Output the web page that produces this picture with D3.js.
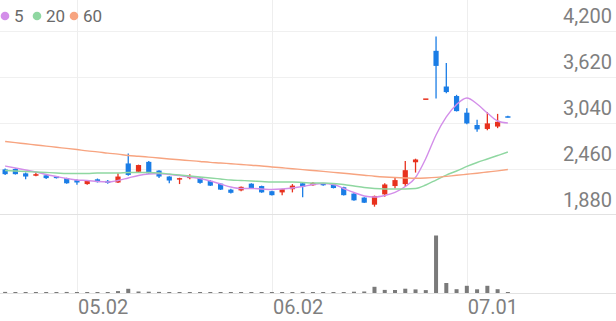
<!DOCTYPE html>
<html>
<head>
<meta charset="utf-8">
<script src="https://cdn.jsdelivr.net/npm/d3@7"></script>
<style>
  body { margin: 0; background: #fff; }
  text { font-family: Roboto, "Noto Sans", sans-serif; }
</style>
</head>
<body>
<svg id="chart" width="616" height="321"></svg>
<script>
// size of window
var width = 616, height = 321;

// trading days shown (Apr 22 - Jul 7)
var dates = [
  "2025-04-22","2025-04-23","2025-04-24","2025-04-25","2025-04-28","2025-04-29","2025-04-30",
  "2025-05-02","2025-05-07","2025-05-08","2025-05-09","2025-05-12","2025-05-13","2025-05-14",
  "2025-05-15","2025-05-16","2025-05-19","2025-05-20","2025-05-21","2025-05-22","2025-05-23",
  "2025-05-26","2025-05-27","2025-05-28","2025-05-29","2025-05-30","2025-06-02","2025-06-04",
  "2025-06-05","2025-06-09","2025-06-10","2025-06-11","2025-06-12","2025-06-13","2025-06-16",
  "2025-06-17","2025-06-18","2025-06-19","2025-06-20","2025-06-23","2025-06-24","2025-06-25",
  "2025-06-26","2025-06-27","2025-06-30","2025-07-01","2025-07-02","2025-07-03","2025-07-04",
  "2025-07-07"
];
// candle values
var opens  = [2455,2460,2405,2375,2380,2365,2345,2320,2270,2330,2310,2290,2530,2425,2550,2440,2365,2335,2345,2350,
              2310,2275,2200,2190,2275,2245,2180,2165,2205,2280,2255,2280,2265,2230,2150,2100,2010,2140,2245,2270,
              2545,3350,3950,3500,3380,3170,3015,2965,2995,3125];
var highs  = [2465,2470,2415,2420,2390,2370,2350,2330,2320,2340,2320,2405,2655,2515,2560,2445,2370,2350,2395,2355,
              2320,2280,2210,2240,2280,2250,2185,2210,2270,2285,2295,2285,2270,2235,2155,2105,2125,2280,2345,2560,
              2590,3350,4130,3795,3395,3225,3080,3180,3155,3130];
var lows   = [2385,2390,2330,2370,2335,2340,2275,2260,2260,2290,2275,2285,2375,2420,2400,2345,2280,2270,2330,2275,
              2245,2195,2150,2180,2210,2160,2125,2130,2165,2105,2250,2250,2215,2125,2060,2030,1985,2110,2215,2235,
              2415,3350,3350,3415,3185,3025,2930,2950,2975,3110];
var closes = [2395,2395,2365,2395,2345,2345,2280,2290,2310,2295,2285,2365,2385,2510,2405,2365,2315,2345,2365,2285,
              2250,2200,2160,2235,2215,2165,2130,2205,2250,2235,2285,2255,2220,2130,2065,2035,2120,2265,2320,2445,
              2580,3350,3760,3430,3190,3035,2960,3035,3055,3110];
var volumes = [110000,95000,100000,85000,90000,80000,105000,95000,90000,85000,80000,190000,420000,150000,130000,
               110000,95000,90000,100000,95000,90000,100000,85000,90000,80000,85000,95000,90000,100000,110000,
               90000,80000,85000,95000,130000,150000,620000,310000,300000,430000,360000,290000,5750000,1000000,
               380000,720000,370000,720000,380000,40000];
// moving averages
var ma5  = [2498,2473,2447,2422,2391,2365,2340,2321,2315,2302,2296,2315,2347,2378,2397,2403,2391,2378,2359,2340,
            2309,2271,2233,2214,2214,2208,2202,2208,2220,2239,2265,2277,2265,2214,2164,2120,2107,2126,2164,2239,
            2353,2592,2889,3116,3273,3355,3280,3166,3065,3040];
var ma20 = [2441,2435,2428,2422,2416,2410,2403,2403,2403,2410,2410,2410,2416,2416,2416,2410,2397,2384,2372,2359,
            2347,2334,2321,2315,2309,2302,2296,2296,2296,2290,2283,2283,2277,2265,2246,2227,2214,2208,2208,2208,
            2214,2258,2321,2384,2435,2492,2542,2586,2630,2674];
var ma60 = [2807,2792,2778,2763,2749,2734,2720,2705,2689,2676,2660,2647,2631,2621,2610,2599,2587,2576,2566,2555,
            2544,2536,2526,2517,2507,2498,2486,2475,2464,2452,2441,2430,2418,2407,2394,2382,2369,2359,2352,2347,
            2344,2347,2354,2367,2381,2394,2407,2422,2437,2454];

var priceTicks = [1880, 2460, 3040, 3620, 4200];
var dateTicks = ["2025-05-02", "2025-06-02", "2025-07-01"];

var maSeries = [
  { name: "5",  values: ma5,  colour: "#d38ee9" },
  { name: "20", values: ma20, colour: "#8fd7a1" },
  { name: "60", values: ma60, colour: "#f7a480" }
];
var upColour = "#e8311d", downColour = "#1a7de6";

var svg = d3.select("#chart");

var x = d3.scaleBand().domain(dates).range([0, 513]).padding(0);
var cx = function(d) { return x(d) + x.bandwidth() / 2; };
var y = d3.scaleLinear().domain([1880, 4200]).range([215, 31]);
var vy = d3.scaleLinear().domain([0, 7100000]).range([293, 222]);

// horizontal grid
svg.append("g").selectAll("line").data(priceTicks.slice(1)).join("line")
  .attr("x1", 0).attr("x2", width)
  .attr("y1", function(d) { return Math.round(y(d)) + 0.5; })
  .attr("y2", function(d) { return Math.round(y(d)) + 0.5; })
  .attr("stroke", "#f0f0f0");

// vertical grid
svg.append("g").selectAll("line").data(dateTicks).join("line")
  .attr("x1", function(d) { return Math.round(cx(d)) + 0.5; })
  .attr("x2", function(d) { return Math.round(cx(d)) + 0.5; })
  .attr("y1", 0).attr("y2", 293)
  .attr("stroke", "#eeeeee");

// separator between price and volume, and volume baseline
svg.append("line").attr("x1", 0).attr("x2", width)
  .attr("y1", Math.round(y(1880)) - 0.5).attr("y2", Math.round(y(1880)) - 0.5)
  .attr("stroke", "#e2e2e2");
svg.append("line").attr("x1", 0).attr("x2", width)
  .attr("y1", 293.5).attr("y2", 293.5)
  .attr("stroke", "#e2e2e2");

// price labels
var yAxis = d3.axisRight(y).tickValues(priceTicks).tickSize(0).tickFormat(d3.format(","));
var ya = svg.append("g").attr("transform", "translate(612,0)").call(yAxis);
ya.select(".domain").remove();
ya.selectAll("text")
  .attr("x", 0).attr("dy", "-0.45em")
  .attr("text-anchor", "end")
  .style("font-size", "20px").style("font-family", "Roboto")
  .attr("fill", "#7f7f7f");

// date labels (left edge on the grid line)
var xAxis = d3.axisBottom(x).tickValues(dateTicks).tickSize(0)
  .tickFormat(function(d) { return d.slice(5).replace("-", "."); });
var xa = svg.append("g").attr("transform", "translate(1,297)").call(xAxis);
xa.select(".domain").remove();
xa.selectAll("text")
  .attr("text-anchor", "start").attr("dy", "0.71em")
  .style("font-size", "20px").style("font-family", "Roboto")
  .attr("fill", "#7f7f7f");

// volume bars
svg.append("g").selectAll("rect").data(dates).join("rect")
  .attr("x", function(d) { return cx(d) - 2; })
  .attr("width", 4)
  .attr("y", function(d, i) { return Math.min(vy(volumes[i]), 292); })
  .attr("height", function(d, i) { return Math.max(293 - vy(volumes[i]), 1); })
  .attr("fill", "#7a7a7a");

// candles
var candles = svg.append("g").selectAll("g").data(dates).join("g");
candles.append("line")
  .attr("x1", cx).attr("x2", cx)
  .attr("y1", function(d, i) { return y(highs[i]); })
  .attr("y2", function(d, i) { return y(lows[i]); })
  .attr("stroke", function(d, i) { return closes[i] >= opens[i] ? upColour : downColour; })
  .attr("stroke-width", 1.3);
candles.append("rect")
  .attr("x", function(d) { return cx(d) - 2.6; })
  .attr("width", 5.2)
  .attr("y", function(d, i) { return y(Math.max(opens[i], closes[i])); })
  .attr("height", function(d, i) { return Math.max(Math.abs(y(opens[i]) - y(closes[i])), 1.5); })
  .attr("fill", function(d, i) { return closes[i] >= opens[i] ? upColour : downColour; });

// moving average lines
var line = d3.line()
  .x(function(d, i) { return cx(dates[i]); })
  .y(function(d) { return y(d); })
  .curve(d3.curveMonotoneX);
svg.append("g").selectAll("path").data(maSeries).join("path")
  .attr("d", function(d) { return line(d.values); })
  .attr("fill", "none")
  .attr("stroke", function(d) { return d.colour; })
  .attr("stroke-width", 1.4);

// legend
var legend = svg.append("g").attr("transform", "translate(0,16)");
var lx = [5, 37, 74];
var items = legend.selectAll("g").data(maSeries).join("g")
  .attr("transform", function(d, i) { return "translate(" + lx[i] + ",0)"; });
items.append("circle").attr("r", 4.3).attr("fill", function(d) { return d.colour; });
items.append("text")
  .attr("x", 9).attr("dy", "0.36em")
  .style("font-size", "17px")
  .attr("fill", "#6a6a6a")
  .text(function(d) { return d.name; });
</script>
</body>
</html>
